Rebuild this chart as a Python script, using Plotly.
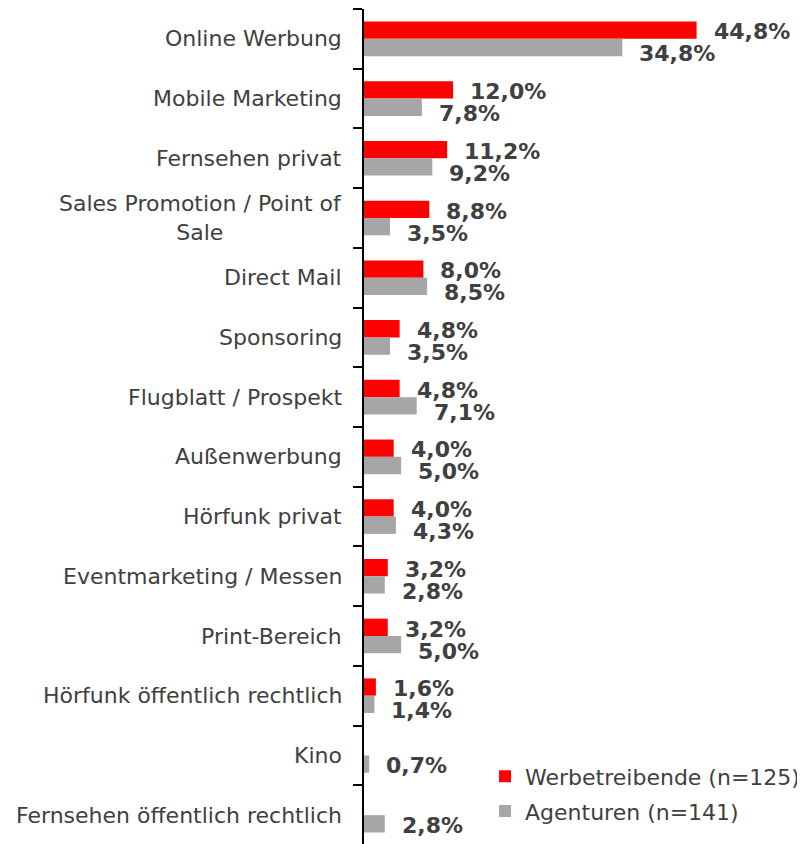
import plotly.graph_objects as go

categories = [
    "Online Werbung", "Mobile Marketing", "Fernsehen privat",
    "Sales Promotion / Point of<br>Sale", "Direct Mail", "Sponsoring",
    "Flugblatt / Prospekt", "Außenwerbung", "Hörfunk privat",
    "Eventmarketing / Messen", "Print-Bereich", "Hörfunk öffentlich rechtlich",
    "Kino", "Fernsehen öffentlich rechtlich",
]
werbetreibende = [44.8, 12.0, 11.2, 8.8, 8.0, 4.8, 4.8, 4.0, 4.0, 3.2, 3.2, 1.6, None, None]
agenturen = [34.8, 7.8, 9.2, 3.5, 8.5, 3.5, 7.1, 5.0, 4.3, 2.8, 5.0, 1.4, 0.7, 2.8]
series_names = ["Werbetreibende (n=125)", "Agenturen (n=141)"]

RED = "#FF0000"
GRAY = "#A6A6A6"
TXT = "#404040"
FONT = "DejaVu Sans"

def fmt(v):
    return f"{v:.1f}".replace(".", ",") + "%"

fig = go.Figure()
fig.add_trace(go.Bar(y=categories, x=werbetreibende, orientation="h", name=series_names[0],
                     marker=dict(color=RED, line=dict(width=0)), legendgroup="a"))
fig.add_trace(go.Bar(y=categories, x=agenturen, orientation="h", name=series_names[1],
                     marker=dict(color=GRAY, line=dict(width=0)), legendgroup="b"))

annotations = []
for cat in categories:
    annotations.append(dict(x=0, y=cat, xref="x", yref="y", text=cat, showarrow=False,
                            xanchor="right", yanchor="middle", align="center", xshift=-20,
                            font=dict(family=FONT, size=22, color=TXT)))
for cat, r, g in zip(categories, werbetreibende, agenturen):
    if r is not None:
        annotations.append(dict(x=r, y=cat, xref="x", yref="y", text=fmt(r), showarrow=False,
                                xanchor="left", yanchor="middle", xshift=15, yshift=7,
                                font=dict(family=FONT, size=22, color=TXT, weight="bold")))
    if g is not None:
        annotations.append(dict(x=g, y=cat, xref="x", yref="y", text=fmt(g), showarrow=False,
                                xanchor="left", yanchor="middle", xshift=15,
                                yshift=(-15 if r is not None else -10),
                                font=dict(family=FONT, size=22, color=TXT, weight="bold")))

fig.update_layout(
    width=805, height=844,
    margin=dict(l=356, r=8, t=1, b=7, autoexpand=False),
    paper_bgcolor="white", plot_bgcolor="white",
    barmode="group", bargap=0.42, bargroupgap=0,
    font=dict(family=FONT, size=22, color=TXT),
    showlegend=True,
    legend=dict(x=0.2745, y=0.107, xanchor="left", yanchor="top",
                font=dict(family=FONT, size=22, color=TXT),
                tracegroupgap=3, bgcolor="rgba(0,0,0,0)"),
    annotations=annotations,
)
fig.update_xaxes(visible=False, range=[0, 59.4], fixedrange=True)
fig.update_yaxes(type="category", categoryorder="array", categoryarray=categories,
                 range=[len(categories) - 0.5, -0.5], tickson="boundaries",
                 ticks="outside", ticklen=9, tickwidth=2, tickcolor="black",
                 showline=True, linewidth=2, linecolor="black",
                 showticklabels=False, showgrid=False, zeroline=False)

fig.write_html("out.html")
